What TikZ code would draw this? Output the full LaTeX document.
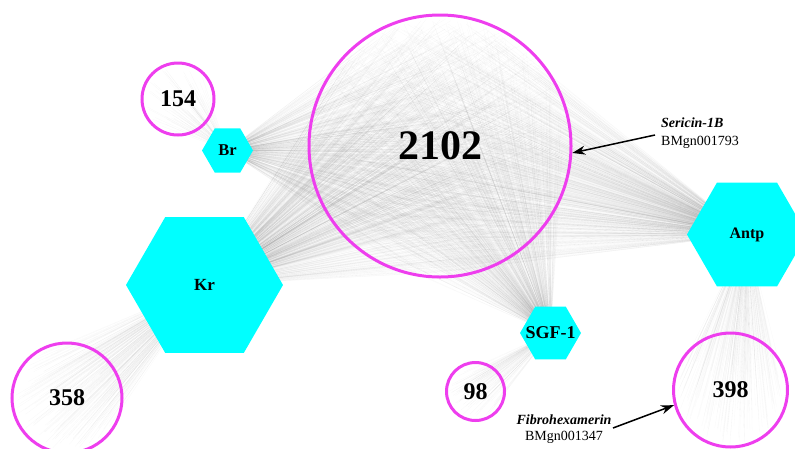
\documentclass[tikz,border=0pt]{standalone}
\usepackage{fontspec}
\setmainfont{Liberation Serif}
\usetikzlibrary{shapes.geometric,calc,backgrounds,arrows.meta}
\definecolor{hubcyan}{RGB}{0,255,255}
\definecolor{genemag}{RGB}{238,62,238}
\tikzset{
  hub/.style={regular polygon,regular polygon sides=6,fill=hubcyan,inner sep=0pt},
  genes/.style={circle,draw=genemag,line width=3pt,inner sep=0pt,font=\bfseries},
  fan/.style={line width=0.3pt,black,opacity=0.028},
  pointer/.style={line width=1.5pt,-{Stealth[length=13pt,width=9pt]}},
  genelabel/.style={font=\fontsize{14}{18}\selectfont,inner sep=0pt},
}
\begin{document}
\begin{tikzpicture}[x=1pt,y=-1pt]
\useasboundingbox (0,0) rectangle (795,448);

% gene groups
\node[genes,minimum size=262pt,font=\fontsize{42}{46}\selectfont\bfseries] (n2102) at (440,146) {2102};
\node[genes,minimum size=72pt,font=\fontsize{24}{28}\selectfont\bfseries] (n154) at (178,99) {154};
\node[genes,minimum size=110pt,font=\fontsize{24}{28}\selectfont\bfseries] (n358) at (67,398) {358};
\node[genes,minimum size=58pt,font=\fontsize{24}{28}\selectfont\bfseries] (n98) at (475.5,391.5) {98};
\node[genes,minimum size=114pt,font=\fontsize{24}{28}\selectfont\bfseries] (n398) at (730.5,390) {398};

% transcription factors (label placed on top so the hexagon keeps its size)
\node[hub,minimum size=51pt,label={[font=\fontsize{16.5}{18}\selectfont\bfseries]center:Br}] (br) at (227.5,150.5) {};
\node[hub,minimum size=157pt,label={[font=\fontsize{17}{19}\selectfont\bfseries]center:Kr}] (kr) at (204.5,285) {};
\node[hub,minimum size=120pt,label={[font=\fontsize{16}{18}\selectfont\bfseries]center:Antp}] (antp) at (747,234.5) {};
\node[hub,minimum size=61pt,label={[font=\fontsize{18}{20}\selectfont\bfseries]center:SGF-1}] (sgf) at (550.5,333) {};

% regulatory edges, one line per target gene
\begin{scope}[on background layer]
  \pgfmathsetseed{2102}
  \foreach \h/\g/\rad/\num in {br/n2102/128/500, kr/n2102/128/800, antp/n2102/128/750,
      sgf/n2102/128/550, br/n154/33/70, kr/n358/52/200, sgf/n98/26/80, antp/n398/54/230} {
    \foreach \k in {1,...,\num} {
      \pgfmathsetmacro\ang{360*rnd}
      \pgfmathsetmacro\dist{\rad*sqrt(rnd)}
      \draw[fan] (\h.center) -- ($(\g.center)+(\ang:\dist)$);
    }
  }
\end{scope}

% highlighted genes
\node[genelabel,anchor=west,align=left] (sericin) at (661,133) {\textbf{\textit{Sericin-1B}}\\BMgn001793};
\coordinate (sertail) at (655,135);
\draw[pointer] (sertail) -- (n2102.-3);

\node[genelabel,align=center] (fibro) at (564,429) {\textbf{\textit{Fibrohexamerin}}\\[-1.5pt]BMgn001347};
\coordinate (fibtail) at (613,428);
\draw[pointer] (fibtail) -- (n398.195);
\end{tikzpicture}
\end{document}
